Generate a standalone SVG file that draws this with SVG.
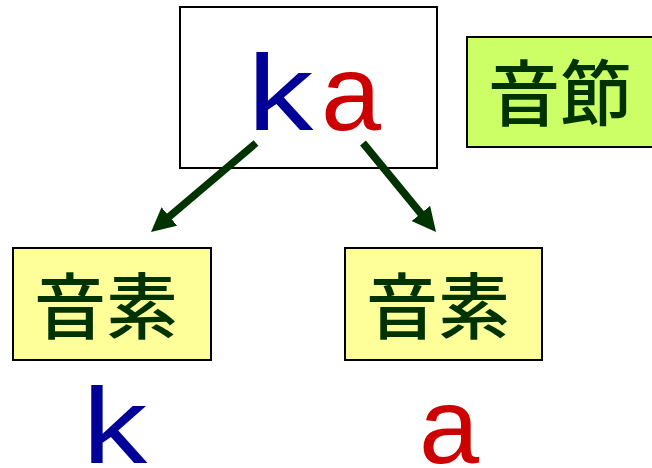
<svg xmlns="http://www.w3.org/2000/svg" width="652" height="468" viewBox="0 0 652 468">
<style>
.lat{font-family:"Liberation Sans",Arial,sans-serif;font-size:108px}
.k{fill:#000099}
.a{fill:#cc0000}
.cjk{font-family:"Noto Sans CJK JP","Noto Sans CJK SC",sans-serif;font-size:72px;font-weight:500;fill:#003300;text-anchor:middle}
.box{stroke:#000;stroke-width:2}
.conn{stroke:#003300;stroke-width:7.5;fill:none}
</style>
<defs>
<marker id="ah" markerUnits="userSpaceOnUse" markerWidth="24" markerHeight="24" refX="2" refY="12" orient="auto">
<path d="M0,0 L24,12 L0,24 z" fill="#003300"/>
</marker>
</defs>
<rect width="652" height="468" fill="#fff"/>
<g id="syllable-box">
<rect class="box" x="180" y="7" width="257" height="161" fill="#fff"/>
<text class="lat k" transform="translate(247.5,130) scale(1.22,1)" x="0" y="0">k</text>
<text class="lat a" x="321" y="130">a</text>
</g>
<g id="label-syllable">
<rect class="box" x="467" y="37" width="190" height="110" fill="#ccff66"/>
<text class="cjk" x="560" y="120">音節</text>
</g>
<g id="phoneme-left">
<rect class="box" x="13" y="248" width="198" height="112" fill="#ffff99"/>
<text class="cjk" x="106" y="333">音素</text>
</g>
<g id="phoneme-right">
<rect class="box" x="345" y="248" width="197" height="112" fill="#ffff99"/>
<text class="cjk" x="438" y="333">音素</text>
</g>
<g id="letter-k">
<text class="lat k" transform="translate(82.5,463) scale(1.2,1)" x="0" y="0">k</text>
</g>
<g id="letter-a">
<text class="lat a" x="419" y="463">a</text>
</g>
<g id="connectors">
<line class="conn" x1="256" y1="143" x2="167.8" y2="217.8" marker-end="url(#ah)"/>
<line class="conn" x1="363" y1="143" x2="422.1" y2="215" marker-end="url(#ah)"/>
</g>
</svg>
